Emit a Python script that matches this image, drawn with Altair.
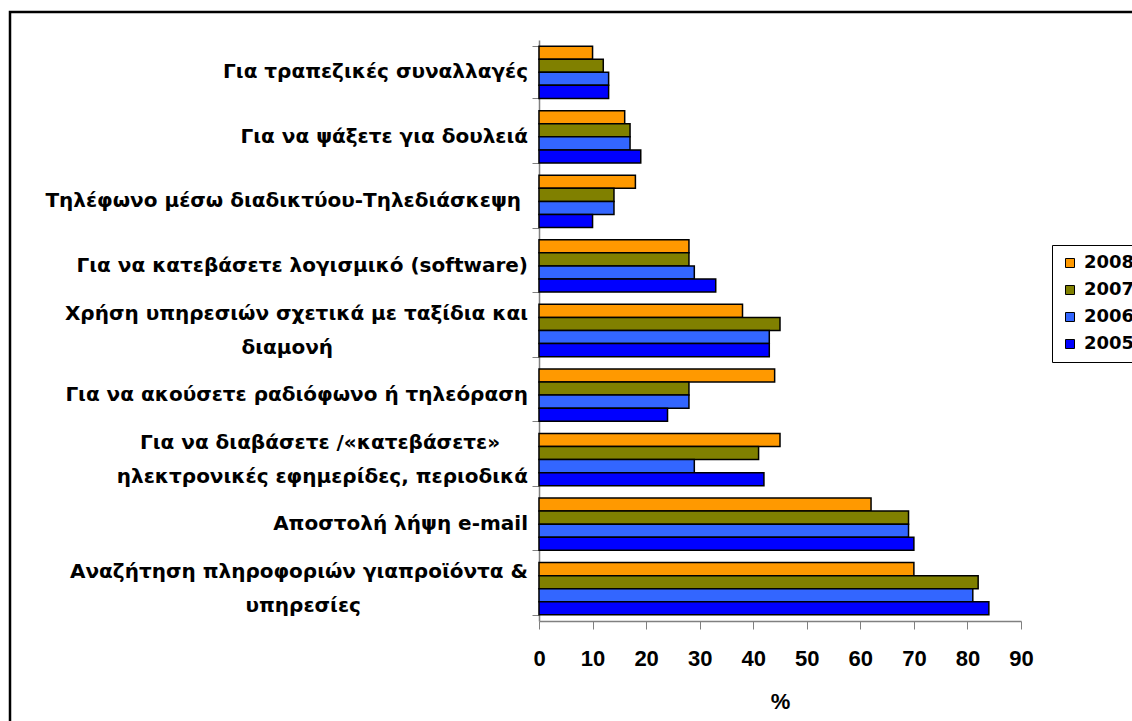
import altair as alt
import pandas as pd

# Internet activities (survey share, %), one group of bars per activity
activities = [
    "Για τραπεζικές συναλλαγές",
    "Για να ψάξετε για δουλειά",
    "Τηλέφωνο μέσω διαδικτύου-Τηλεδιάσκεψη ",
    "Για να κατεβάσετε λογισμικό (software)",
    "Χρήση υπηρεσιών σχετικά με ταξίδια και|διαμονή",
    "Για να ακούσετε ραδιόφωνο ή τηλεόραση",
    "Για να διαβάσετε /«κατεβάσετε»|ηλεκτρονικές εφημερίδες, περιοδικά",
    "Αποστολή λήψη e-mail",
    "Αναζήτηση πληροφοριών γιαπροϊόντα &|υπηρεσίες",
]

years = ["2008", "2007", "2006", "2005"]
v2008 = [10, 16, 18, 28, 38, 44, 45, 62, 70]
v2007 = [12, 17, 14, 28, 45, 28, 41, 69, 82]
v2006 = [13, 17, 14, 29, 43, 28, 29, 69, 81]
v2005 = [13, 19, 10, 33, 43, 24, 42, 70, 84]
series = {"2008": v2008, "2007": v2007, "2006": v2006, "2005": v2005}

colors = ["#FF9900", "#808000", "#3366FF", "#0000FF"]
x_ticks = [0, 10, 20, 30, 40, 50, 60, 70, 80, 90]

NBSP = "\u00a0"
ZWSP = "\u200b"  # keeps trailing no-break spaces from being trimmed


def centre_lines(label, per_char=0.91):
    """Pad lines with no-break spaces so right-aligned label lines look
    centred under one another; a trailing space becomes a no-break one."""
    lines = label.split("|")
    longest = max(len(s.rstrip()) for s in lines)
    out = []
    for s in lines:
        core = s.rstrip()
        n = round((longest - len(core)) * per_char) + (len(s) - len(core))
        out.append(core + NBSP * n + ZWSP if n else core)
    return "|".join(out)


labels = [centre_lines(a) for a in activities]

rows = []
for i, lab in enumerate(labels):
    for y in years:
        rows.append({"activity": lab, "year": y, "value": series[y][i]})
df = pd.DataFrame(rows)
label_df = pd.DataFrame({"activity": labels, "lines": [l.count("|") + 1 for l in labels]})

FONT = "Liberation Sans"
LABEL_FONT = "DejaVu Sans"
LABEL_SIZE = 20
LINE_H = 34

y_scale = alt.Scale(paddingInner=0.19, paddingOuter=0.095)
y_axis = alt.Axis(
    title="",
    labels=False,
    tickSize=7,
    tickBand="extent",
    tickColor="#808080",
    domainColor="#808080",
    domainWidth=1.5,
    grid=False,
)


def y_enc():
    return alt.Y("activity:N", sort=labels, scale=y_scale, axis=y_axis)


bars = (
    alt.Chart(df)
    .mark_bar(stroke="black", strokeWidth=1.5)
    .encode(
        x=alt.X(
            "value:Q",
            scale=alt.Scale(domain=[0, 90], nice=False),
            axis=alt.Axis(
                values=x_ticks,
                title="%",
                titleFont=FONT,
                titleFontSize=22,
                titleFontWeight="bold",
                titleColor="black",
                titlePadding=22,
                labelFont=FONT,
                labelFontSize=22,
                labelFontWeight="bold",
                labelColor="black",
                labelPadding=19,
                tickSize=8,
                tickColor="#808080",
                domainColor="#808080",
                domainWidth=1.5,
                grid=False,
                labelFlush=False,
            ),
        ),
        y=y_enc(),
        yOffset=alt.YOffset("year:N", sort=years),
        color=alt.Color(
            "year:N",
            scale=alt.Scale(domain=years, range=colors),
            legend=alt.Legend(
                title="",
                orient="none",
                legendX=513,
                legendY=205,
                direction="vertical",
                padding=9,
                strokeColor="black",
                fillColor="white",
                symbolType="square",
                symbolSize=81,
                symbolStrokeColor="black",
                symbolStrokeWidth=1,
                symbolOpacity=1,
                labelFont=LABEL_FONT,
                labelFontSize=18,
                labelFontWeight="bold",
                labelColor="black",
                labelOffset=5,
                rowPadding=9,
                labelLimit=200,
            ),
        ),
    )
)

# Category labels to the left of the axis; two-line labels are lifted by
# half a line so that the block sits centred on its group of bars.
label_style = dict(
    align="right",
    baseline="middle",
    font=LABEL_FONT,
    fontSize=LABEL_SIZE,
    fontWeight="bold",
    color="black",
    lineBreak="|",
    lineHeight=LINE_H,
)
single_labels = (
    alt.Chart(label_df)
    .transform_filter("datum.lines == 1")
    .mark_text(**label_style)
    .encode(y=y_enc(), x=alt.value(-11), text="activity:N")
)
double_labels = (
    alt.Chart(label_df)
    .transform_filter("datum.lines == 2")
    .mark_text(dy=-LINE_H / 2, **label_style)
    .encode(y=y_enc(), x=alt.value(-11), text="activity:N")
)

# Frame around the whole figure
frame = (
    alt.Chart(alt.Data(values=[{"k": 1}]))
    .mark_rect(fillOpacity=0, stroke="black", strokeWidth=2.5)
    .encode(
        x=alt.value(-529),
        x2=alt.value(700),
        y=alt.value(-28),
        y2=alt.value(800),
    )
)

chart = (
    alt.layer(bars, single_labels, double_labels, frame)
    .properties(
        width=482,
        height=581,
        padding={"left": 539, "top": 40, "right": 111, "bottom": 100},
        autosize=alt.AutoSizeParams(type="none"),
        background="white",
    )
    .configure(font=FONT)
    .configure_view(stroke="transparent")
)

chart.save("out.html", embed_options={"renderer": "svg", "actions": False})
